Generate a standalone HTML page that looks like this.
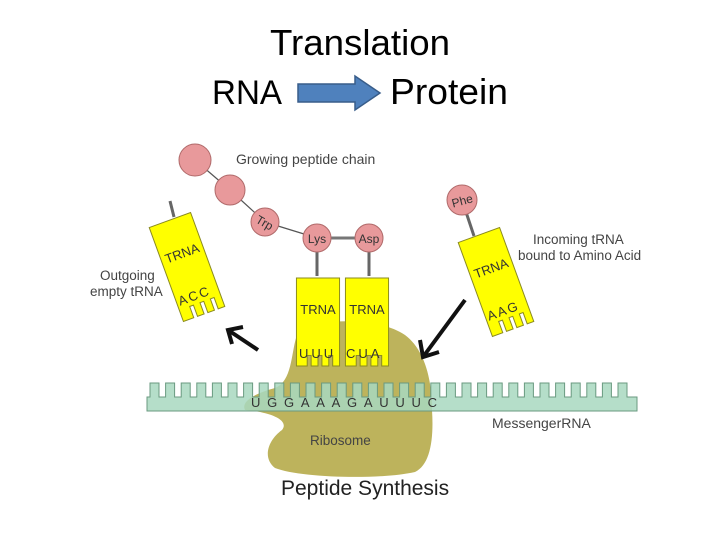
<!DOCTYPE html>
<html><head><meta charset="utf-8"><style>
html,body{margin:0;padding:0;background:#fff;}
svg{display:block;}
.t{font-family:"Liberation Sans",sans-serif;}
</style></head><body>
<svg width="720" height="540" viewBox="0 0 720 540" xmlns="http://www.w3.org/2000/svg">
<defs>
<g id="trna">
<path d="M-22,-50 H22 V50 H15 V38 H11 V50 H4 V38 H0 V50 H-7 V38 H-11 V50 H-22 Z" fill="#ffff00" stroke="#8a8a20" stroke-width="1"/>
</g>
</defs>
<text x="360" y="55" text-anchor="middle" class="t" font-size="36" fill="#000" textLength="180" lengthAdjust="spacingAndGlyphs">Translation</text>
<text x="212" y="104" class="t" font-size="34" fill="#000" textLength="70" lengthAdjust="spacingAndGlyphs">RNA</text>
<text x="390" y="104" class="t" font-size="36" fill="#000" textLength="118" lengthAdjust="spacingAndGlyphs">Protein</text>
<path d="M298,84 H355 V76 L380,93 L355,110 V102 H298 Z" fill="#4f81bd" stroke="#385d8a" stroke-width="1.5"/>

<!-- ribosome -->
<path d="M300,328 C330,318 380,318 405,335 C425,350 432,380 432,410 C434,440 430,465 415,472 C380,480 300,478 275,468 C262,458 268,440 282,430 C290,420 270,412 245,410 C240,400 260,392 275,388 C295,380 290,345 300,328 Z" fill="#bdb35c"/>

<!-- mRNA -->
<g id="teeth" fill="#a8d8c0" stroke="#6a9a80" stroke-width="1" fill-opacity="0.85"></g>

<!-- peptide chain -->
<g stroke="#555" stroke-width="1.2">
<line x1="195" y1="160" x2="230" y2="190"/><line x1="230" y1="190" x2="265" y2="222"/><line x1="265" y1="222" x2="317" y2="238"/>
</g>
<line x1="317" y1="238" x2="369" y2="238" stroke="#777" stroke-width="3"/>
<line x1="317" y1="238" x2="317" y2="276" stroke="#666" stroke-width="3"/>
<line x1="369" y1="238" x2="369" y2="276" stroke="#666" stroke-width="3"/>
<line x1="170" y1="201" x2="174" y2="217" stroke="#666" stroke-width="3"/>
<line x1="466" y1="212" x2="474" y2="236" stroke="#666" stroke-width="3"/>
<g fill="#e8999b" stroke="#b06a6a" stroke-width="1">
<circle cx="195" cy="160" r="16"/><circle cx="230" cy="190" r="15"/><circle cx="265" cy="222" r="14"/>
<circle cx="317" cy="238" r="14"/><circle cx="369" cy="238" r="14"/><circle cx="462" cy="200" r="15"/>
</g>
<text x="265" y="227" text-anchor="middle" class="t" font-size="12" fill="#333" transform="rotate(30 265 222)">Trp</text>
<text x="317" y="243" text-anchor="middle" class="t" font-size="12" fill="#333">Lys</text>
<text x="369" y="243" text-anchor="middle" class="t" font-size="12" fill="#333">Asp</text>
<text x="462" y="205" text-anchor="middle" class="t" font-size="12" fill="#333" transform="rotate(-15 462 200)">Phe</text>

<!-- middle tRNAs -->
<use href="#trna" transform="translate(318,322) scale(0.98,0.88)"/>
<use href="#trna" transform="translate(367,322) scale(0.98,0.88)"/>
<text x="318" y="314" text-anchor="middle" class="t" font-size="13" fill="#333">TRNA</text>
<text x="367" y="314" text-anchor="middle" class="t" font-size="13" fill="#333">TRNA</text>
<text x="299" y="358" class="t" font-size="13" fill="#333" letter-spacing="3">UUU</text>
<text x="346" y="358" class="t" font-size="13" fill="#333" letter-spacing="3">CUA</text>

<!-- side tRNAs -->
<g transform="translate(187,267) rotate(-20)">
<use href="#trna"/>
<text x="0" y="-10" text-anchor="middle" class="t" font-size="13" fill="#333">TRNA</text>
<text x="-3" y="34" text-anchor="middle" class="t" font-size="13" fill="#333" letter-spacing="2">ACC</text>
</g>
<g transform="translate(496,282) rotate(-20)">
<use href="#trna"/>
<text x="0" y="-10" text-anchor="middle" class="t" font-size="13" fill="#333">TRNA</text>
<text x="-3" y="34" text-anchor="middle" class="t" font-size="13" fill="#333" letter-spacing="2">AAG</text>
</g>

<!-- arrows -->
<g stroke="#111" stroke-width="4" fill="none">
<line x1="258" y1="350" x2="228" y2="330"/><polyline points="243,327 228,330 232,344"/>
<line x1="465" y1="300" x2="423" y2="357"/><polyline points="420,340 423,357 439,352"/>
</g>

<text x="251" y="407" class="t" font-size="13" fill="#333" textLength="186" lengthAdjust="spacing">UGGAAAGAUUUC</text>

<text x="236" y="164" class="t" font-size="14" fill="#444">Growing peptide chain</text>
<text x="100" y="280" class="t" font-size="13.5" fill="#444">Outgoing</text>
<text x="90" y="296" class="t" font-size="13.5" fill="#444">empty tRNA</text>
<text x="533" y="244" class="t" font-size="13.5" fill="#444">Incoming  tRNA</text>
<text x="518" y="260" class="t" font-size="13.5" fill="#444">bound to Amino Acid</text>
<text x="492" y="428" class="t" font-size="14" fill="#444">MessengerRNA</text>
<text x="310" y="445" class="t" font-size="13.5" fill="#444">Ribosome</text>
<text x="281" y="495" class="t" font-size="21" fill="#222">Peptide Synthesis</text>
</svg>
<script>
(function(){
var g=document.getElementById('teeth'),d='M147,397';
for(var x=147;x<630;x+=15.6){d+=' H'+(x+3).toFixed(1)+' V383 H'+(x+12).toFixed(1)+' V397';}
d+=' H637';
var p=document.createElementNS('http://www.w3.org/2000/svg','path');
p.setAttribute('d',d+' V411 H147 Z');
g.appendChild(p);
})();
</script>
</body></html>
